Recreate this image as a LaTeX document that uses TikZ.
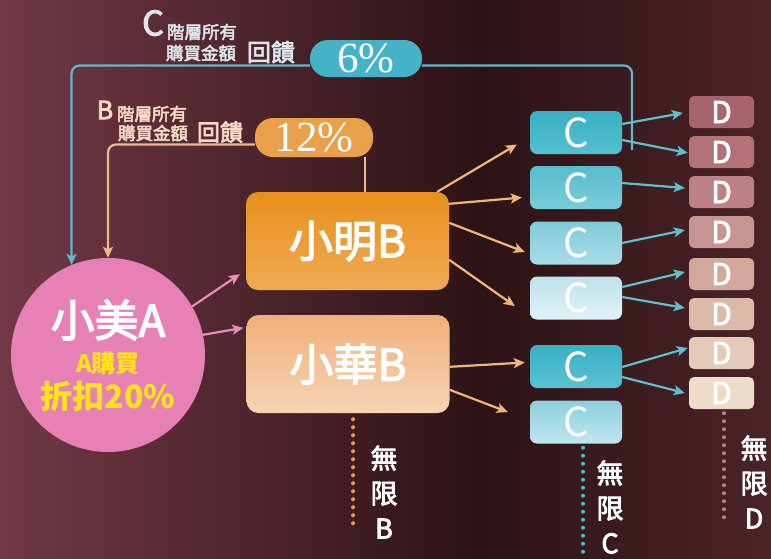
\documentclass[tikz,border=0pt]{standalone}
\usepackage{fontspec}
\setmainfont{Noto Sans CJK TC}
\newfontfamily\medfont[FakeBold=3]{Noto Sans CJK TC}
\newfontfamily\pctfont{Liberation Serif}
\usetikzlibrary{arrows.meta}
\definecolor{bgL}{HTML}{723846}
\definecolor{bgM}{HTML}{2C1316}
\definecolor{bgR}{HTML}{4B2328}
\definecolor{pinkA}{HTML}{E780B4}
\definecolor{pinkArr}{HTML}{E98BBB}
\definecolor{orArr}{HTML}{F2B679}
\definecolor{teArr}{HTML}{5CC0D2}
\definecolor{teLine}{HTML}{5DB9CB}
\definecolor{orLine}{HTML}{F0B890}
\definecolor{yel}{HTML}{FFE419}
\definecolor{pillT}{HTML}{45B3C7}
\definecolor{pillO}{HTML}{E9A04A}
\definecolor{labC}{HTML}{DDE6EA}
\definecolor{labB}{HTML}{F6DCC6}
\definecolor{dotB}{HTML}{E8A050}
\definecolor{dotC}{HTML}{4AB8CC}
\definecolor{dotD}{HTML}{BE868C}
\begin{document}
\begin{tikzpicture}[x=1pt,y=-1pt,
  arr/.style={line width=2.2pt,-{Stealth[length=11pt,width=10pt,inset=2.5pt]}},
  bbox/.style={rounded corners=12pt,minimum width=203pt,minimum height=98pt,inner sep=0pt,text=white,font=\medfont\fontsize{44}{44}\selectfont},
  cbox/.style={rounded corners=7pt,minimum width=92pt,minimum height=43pt,inner sep=0pt,text=white,font=\fontsize{40}{40}\selectfont},
  dbox/.style={rounded corners=5pt,minimum width=65pt,minimum height=32pt,inner sep=0pt,text=white,font=\medfont\fontsize{30}{30}\selectfont},
  pill/.style={rounded corners=18pt,inner sep=0pt,text=white,font=\pctfont\fontsize{43}{43}\selectfont},
  vtext/.style={text=white,align=center,inner sep=0pt,font=\medfont\fontsize{27}{35}\selectfont},
  lab/.style={inner sep=0pt,font=\medfont\fontsize{#1}{#1}\selectfont},
  dots/.style={line width=4pt,line cap=round,dash pattern=on 0pt off 8pt}]
\useasboundingbox (0,0) rectangle (771,558);
\shade[left color=bgL,right color=bgM] (0,0) rectangle (480,558);
\shade[left color=bgM,right color=bgR] (479.5,0) rectangle (771,558);

% top labels
\node[lab=34,text=labC] (lc) at (153,23) {C};
\node[lab=17.5,text=labC] (lc1) at (202,32) {階層所有};
\node[lab=17.5,text=labC] (lc2) at (201,53) {購買金額};
\node[lab=24,text=labC] (lc3) at (271,52) {回饋};
\node[lab=25,text=labB] (lb) at (105,110) {B};
\node[lab=17.5,text=labB] (lb1) at (152,114) {階層所有};
\node[lab=17.5,text=labB] (lb2) at (153,133) {購買金額};
\node[lab=23,text=labB] (lb3) at (220,132) {回饋};

% pills
\node[pill,fill=pillT,minimum width=112pt,minimum height=37pt] (p6) at (366,58.5) {6\%};
\node[pill,fill=pillO,minimum width=118pt,minimum height=39pt] (p12) at (314,137.5) {12\%};

% circle A
\node[circle,fill=pinkA,minimum size=194pt,inner sep=0pt] (A) at (108,355) {};
\node[lab=44,text=white] (At) at (108,320) {小美A};
\node[text=yel,inner sep=0,font=\bfseries\fontsize{24}{24}\selectfont] (At2) at (108,363) {A購買};
\node[text=yel,inner sep=0,font=\bfseries\fontsize{32}{32}\selectfont] (At3) at (108,396) {折扣20\%};

% B boxes
\node[bbox,top color={rgb,255:red,232;green,144;blue,28},bottom color={rgb,255:red,240;green,170;blue,84}] (mingB) at (347.5,241) {小明B};
\node[bbox,top color={rgb,255:red,240;green,176;blue,122},bottom color={rgb,255:red,246;green,212;blue,182}] (huaB) at (348,364) {小華B};

% C boxes
\node[cbox,top color={rgb,255:red,56;green,176;blue,196},bottom color={rgb,255:red,84;green,192;blue,208}] (c1) at (576,132.5) {C};
\node[cbox,top color={rgb,255:red,88;green,188;blue,204},bottom color={rgb,255:red,122;green,204;blue,218}] (c2) at (576,187.5) {C};
\node[cbox,top color={rgb,255:red,128;green,202;blue,216},bottom color={rgb,255:red,170;green,222;blue,232}] (c3) at (576,243) {C};
\node[cbox,top color={rgb,255:red,190;green,227;blue,235},bottom color={rgb,255:red,224;green,242;blue,246}] (c4) at (576,298) {C};
\node[cbox,top color={rgb,255:red,56;green,176;blue,196},bottom color={rgb,255:red,90;green,194;blue,210}] (c5) at (576,366.5) {C};
\node[cbox,top color={rgb,255:red,140;green,207;blue,220},bottom color={rgb,255:red,192;green,230;blue,238}] (c6) at (576,422) {C};

% D boxes
\node[dbox,fill={rgb,255:red,168;green,100;blue,108}] (d1) at (721.5,112) {D};
\node[dbox,fill={rgb,255:red,178;green,114;blue,120}] (d2) at (721.5,152) {D};
\node[dbox,fill={rgb,255:red,188;green,130;blue,134}] (d3) at (721.5,192) {D};
\node[dbox,fill={rgb,255:red,198;green,148;blue,146}] (d4) at (721.5,232) {D};
\node[dbox,fill={rgb,255:red,210;green,168;blue,156}] (d5) at (721.5,274) {D};
\node[dbox,fill={rgb,255:red,220;green,186;blue,170}] (d6) at (721.5,314) {D};
\node[dbox,fill={rgb,255:red,228;green,202;blue,184}] (d7) at (721.5,353) {D};
\node[dbox,fill={rgb,255:red,236;green,220;blue,200}] (d8) at (721.5,393) {D};

% feedback lines
\draw[arr,teLine,rounded corners=8pt] ([yshift=-7pt]p6.west) -| (A.112);
\coordinate (tend) at (632,150);
\draw[teLine,line width=2.2pt,rounded corners=8pt] ([yshift=-7pt]p6.east) -| (tend);
\draw[arr,orLine,rounded corners=8pt] ([yshift=-7pt]p12.west) -| (A.north);
\draw[orLine,line width=2.2pt] ([xshift=-8pt]p12.south east) -- ([xshift=-8pt]p12.south east |- mingB.north);

% A to B
\draw[arr,pinkArr] (A.30) -- ([shift={(-6pt,16pt)}]mingB.south west);
\draw[arr,pinkArr] (A.12) -- ([shift={(-3pt,-13pt)}]huaB.north west);

% B to C
\draw[arr,orArr] ([xshift=-12pt]mingB.north east) -- ([shift={(-13pt,-12pt)}]c1.west);
\draw[arr,orArr] ([yshift=-12pt]mingB.north east) -- ([shift={(-8pt,-10pt)}]c2.west);
\draw[arr,orArr] ([yshift=-31pt]mingB.north east) -- ([shift={(-5pt,-9pt)}]c3.west);
\draw[arr,orArr] ([yshift=-68pt]mingB.north east) -- ([shift={(-15pt,-8pt)}]c4.west);
\draw[arr,orArr] ([yshift=-52pt]huaB.north east) -- ([shift={(-5pt,4pt)}]c5.west);
\draw[arr,orArr] ([yshift=-75pt]huaB.north east) -- ([shift={(-22pt,10pt)}]c6.west);

% C to D
\draw[arr,teArr] ([yshift=8.5pt]c1.east) -- ([shift={(-6pt,-1pt)}]d1.west);
\draw[arr,teArr] ([yshift=-7.5pt]c1.east) -- ([shift={(-1pt,-1pt)}]d2.west);
\draw[arr,teArr] ([yshift=4.5pt]c2.east) -- ([shift={(-4pt,4pt)}]d3.west);
\draw[arr,teArr] (c3.east) -- ([shift={(-4pt,2pt)}]d4.west);
\draw[arr,teArr] ([yshift=11pt]c4.east) -- ([shift={(-4pt,2pt)}]d5.west);
\draw[arr,teArr] ([yshift=1pt]c4.east) -- ([shift={(-4pt,6pt)}]d6.west);
\draw[arr,teArr] ([yshift=-0.5pt]c5.east) -- ([shift={(-1pt,5pt)}]d7.west);
\draw[arr,teArr] ([yshift=-10.5pt]c5.east) -- ([shift={(-4pt,0pt)}]d8.west);

% infinite
\coordinate (bend) at (353,528);
\draw[dots,color=dotB] ([xshift=5pt,yshift=-6pt]huaB.south) -- (bend);
\node[vtext] (vb) at (384,492) {無\\限\\B};
\coordinate (cend) at (583,558);
\draw[dots,color=dotC] ([xshift=7pt,yshift=-4pt]c6.south) -- (cend);
\node[vtext] (vc) at (610,507) {無\\限\\C};
\coordinate (dend) at (724,523);
\draw[dots,color=dotD] ([xshift=2.5pt,yshift=-4pt]d8.south) -- (dend);
\node[vtext] (vd) at (754,482) {無\\限\\D};
\end{tikzpicture}
\end{document}
